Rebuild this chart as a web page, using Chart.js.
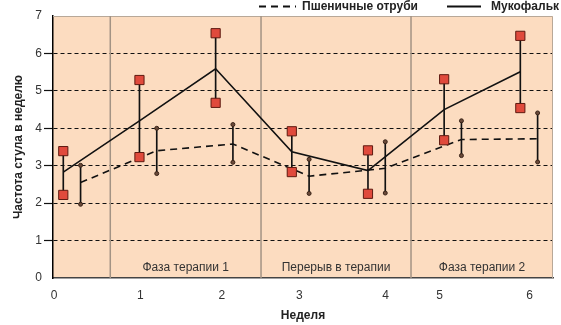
<!DOCTYPE html>
<html><head><meta charset="utf-8">
<script src="https://cdn.jsdelivr.net/npm/chart.js@4/dist/chart.umd.min.js"></script>
<style>html,body{margin:0;padding:0;background:#fff}#wrap{width:561px;height:325px}</style>
</head><body><div id="wrap"><canvas id="c" width="561" height="325"></canvas></div>
<script>
// ---- data ----
const weeks = [0, 1, 2, 3, 4, 5, 6];
const weekTickLabels = ['0', '1', '2', '3', '4', '5', '6'];
const seriesNames = ['Пшеничные отруби', 'Мукофальк'];
const mukofalkMean = [2.83, 4.20, 5.59, 3.37, 2.87, 4.50, 5.51];
const mukofalkHigh = [3.39, 5.29, 6.54, 3.92, 3.41, 5.31, 6.47];
const mukofalkLow  = [2.22, 3.23, 4.68, 2.83, 2.25, 3.68, 4.54];
const wheatMean = [2.55, 3.40, 3.58, 2.72, 2.93, 3.70, 3.72];
const wheatHigh = [3.01, 4.00, 4.10, 3.17, 3.64, 4.20, 4.41];
const wheatLow  = [1.97, 2.79, 3.09, 2.26, 2.27, 3.27, 3.10];
const phaseBounds = [0.617, 2.596, 4.565];
const phaseLabels = ['', 'Фаза терапии 1', 'Перерыв в терапии', 'Фаза терапии 2'];
const yTitle = 'Частота стула в неделю';
const xTitle = 'Неделя';

// ---- layout / style constants ----
const wheatShift = 0.227;
const xTickAt = [-0.12, 1.01, 2.08, 3.10, 4.23, 4.94, 6.12];
const FONT = '"Liberation Sans", Arial, sans-serif';

const pts = (vals, shift) => weeks.map((w, i) => ({x: w + shift, y: vals[i]}));
const rng = (lo, hi, shift) => weeks.map((w, i) => ({x: w + shift, y: [lo[i], hi[i]]}));

const decor = {
  id: 'decor',
  beforeDraw(chart) {
    const {ctx, chartArea: a} = chart;
    ctx.save();
    ctx.fillStyle = '#fcdcc0';
    ctx.fillRect(a.left, a.top, a.right - a.left, a.bottom - a.top);
    ctx.restore();
  },
  beforeDatasetsDraw(chart) {
    const {ctx, chartArea: a, scales: {x}} = chart;
    ctx.save();
    ctx.strokeStyle = '#b8a898';
    ctx.lineWidth = 1;
    ctx.beginPath();
    ctx.moveTo(a.left, a.top + 0.5); ctx.lineTo(a.right - 0.5, a.top + 0.5); ctx.lineTo(a.right - 0.5, a.bottom);
    ctx.stroke();
    ctx.strokeStyle = '#a39384';
    ctx.lineWidth = 1.5;
    const bounds = [x.min, ...phaseBounds, x.max];
    phaseBounds.forEach(b => {
      const px = x.getPixelForValue(b);
      ctx.beginPath(); ctx.moveTo(px, a.top); ctx.lineTo(px, a.bottom); ctx.stroke();
    });
    ctx.fillStyle = '#333';
    ctx.font = '12px ' + FONT;
    ctx.textAlign = 'center';
    ctx.textBaseline = 'middle';
    phaseLabels.forEach((t, i) => {
      if (!t) return;
      const cx = (x.getPixelForValue(bounds[i]) + x.getPixelForValue(bounds[i + 1])) / 2;
      ctx.fillText(t, cx, a.bottom - 10);
    });
    ctx.restore();
  },
  afterDraw(chart) {
    const {ctx} = chart;
    ctx.save();
    ctx.strokeStyle = '#111';
    ctx.lineWidth = 2;
    ctx.setLineDash([7, 5]);
    ctx.beginPath(); ctx.moveTo(259, 6.5); ctx.lineTo(296, 6.5); ctx.stroke();
    ctx.setLineDash([]);
    ctx.beginPath(); ctx.moveTo(447, 6.5); ctx.lineTo(481, 6.5); ctx.stroke();
    ctx.fillStyle = '#222';
    ctx.font = 'bold 12px ' + FONT;
    ctx.textBaseline = 'middle';
    ctx.textAlign = 'left';
    ctx.fillText(seriesNames[0], 302, 7);
    ctx.fillText(seriesNames[1], 491, 7);
    ctx.restore();
  }
};

const gridVisible = c => (c.tick && c.tick.value > 0 && c.tick.value < 7) ? '#111' : 'rgba(0,0,0,0)';

new Chart(document.getElementById('c'), {
  data: {
    datasets: [
      {type: 'scatter', label: seriesNames[1] + ' hi', data: pts(mukofalkHigh, 0), pointStyle: 'rect', pointRadius: 6.5, pointBackgroundColor: '#e04a3c', pointBorderColor: '#5e1a10', pointBorderWidth: 1, order: 0},
      {type: 'scatter', label: seriesNames[1] + ' lo', data: pts(mukofalkLow, 0), pointStyle: 'rect', pointRadius: 6.5, pointBackgroundColor: '#e04a3c', pointBorderColor: '#5e1a10', pointBorderWidth: 1, order: 0},
      {type: 'scatter', label: seriesNames[0] + ' hi', data: pts(wheatHigh, wheatShift), pointStyle: 'circle', pointRadius: 2, pointBackgroundColor: '#6b4a3a', pointBorderColor: '#3a2418', pointBorderWidth: 1, order: 0},
      {type: 'scatter', label: seriesNames[0] + ' lo', data: pts(wheatLow, wheatShift), pointStyle: 'circle', pointRadius: 2, pointBackgroundColor: '#6b4a3a', pointBorderColor: '#3a2418', pointBorderWidth: 1, order: 0},
      {type: 'line', label: seriesNames[1], data: pts(mukofalkMean, 0), borderColor: '#111', borderWidth: 1.6, pointRadius: 0, tension: 0, order: 1},
      {type: 'line', label: seriesNames[0], data: pts(wheatMean, wheatShift), borderColor: '#111', borderWidth: 1.6, borderDash: [7, 5], pointRadius: 0, tension: 0, order: 1},
      {type: 'bar', label: seriesNames[1] + ' range', data: rng(mukofalkLow, mukofalkHigh, 0), backgroundColor: '#111', barThickness: 1, grouped: false, order: 2},
      {type: 'bar', label: seriesNames[0] + ' range', data: rng(wheatLow, wheatHigh, wheatShift), backgroundColor: '#111', barThickness: 1, grouped: false, order: 2}
    ]
  },
  options: {
    responsive: false,
    animation: false,
    devicePixelRatio: 1,
    layout: {padding: {left: 0, top: 16, right: 8, bottom: 0}},
    plugins: {legend: {display: false}, tooltip: {enabled: false}},
    scales: {
      x: {
        type: 'linear', min: -0.135, max: 6.429, offset: false,
        afterBuildTicks: s => { s.ticks = xTickAt.map(v => ({value: v})); },
        afterFit: s => { s.height = 47; },
        grid: {display: false, drawTicks: false, offset: false},
        border: {display: true, color: '#444', width: 1.5},
        ticks: {autoSkip: false, maxRotation: 0, padding: 10, color: '#333', font: {family: FONT, size: 12},
                callback: (v, i) => weekTickLabels[i]},
        title: {display: true, text: xTitle, color: '#222', font: {family: FONT, size: 12, weight: 'bold'}, padding: {top: 2, bottom: 2}}
      },
      y: {
        min: 0, max: 7,
        afterFit: s => { s.width = 53; },
        ticks: {stepSize: 1, padding: 2, color: '#333', font: {family: FONT, size: 12}},
        grid: {color: gridVisible, tickColor: gridVisible, lineWidth: 1, tickLength: 9, tickWidth: 1.2},
        border: {display: true, color: '#000', width: 1.5, dash: [4, 3]},
        title: {display: true, text: yTitle, color: '#222', font: {family: FONT, size: 12, weight: 'bold'}, padding: {top: 11, bottom: 0}}
      }
    }
  },
  plugins: [decor]
});
</script></body></html>
